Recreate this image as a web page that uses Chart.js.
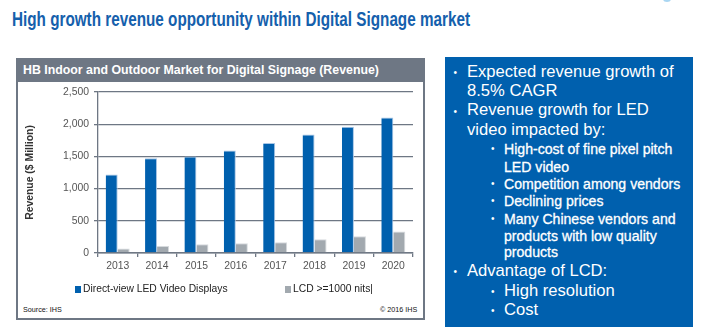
<!DOCTYPE html>
<html><head><meta charset="utf-8">
<script src="https://cdn.jsdelivr.net/npm/chart.js@4.4.1/dist/chart.umd.min.js"></script>
<style>
html,body{margin:0;padding:0;background:#fff;}
body{width:701px;height:336px;position:relative;overflow:hidden;font-family:"Liberation Sans",Arial,sans-serif;}
.abs{position:absolute;white-space:nowrap;line-height:1;}
#title{left:12px;top:8px;font-size:21px;font-weight:bold;color:#1560ac;transform-origin:0 0;font-family:"Liberation Sans Narrow","Arial Narrow","Liberation Sans",Arial,sans-serif;}
#panel{position:absolute;left:16px;top:58px;width:405px;height:258px;border:2px solid #6e7784;}
#header{position:absolute;left:16px;top:58px;width:409px;height:24px;background:#6e7784;}
#htext{left:23px;top:65px;font-size:11.2px;font-weight:bold;color:#fff;}
#src{left:23px;top:306px;font-size:7.2px;color:#111;-webkit-font-smoothing:antialiased;}
#copy{left:380px;top:306px;font-size:7.2px;color:#111;}
#side{position:absolute;left:445px;top:57px;width:248px;height:270px;background:#0060ae;}
#arc{position:absolute;left:663px;top:-4px;width:8px;height:6px;border-radius:50%;background:#a9d6f2;}
.bl{color:#fff;}
.sm{-webkit-text-stroke:0.3px #fff;}
#c{position:absolute;left:0;top:0;}
</style></head>
<body>
<div id="arc"></div>
<div id="title" class="abs">High growth revenue opportunity within Digital Signage market</div>
<div id="panel"></div>
<div id="header"></div>
<div id="htext" class="abs">HB Indoor and Outdoor Market for Digital Signage (Revenue)</div>
<div id="src" class="abs">Source: IHS</div>
<div id="copy" class="abs">© 2016 IHS</div>
<div id="side"></div>
<div id="bullets"></div>
<canvas id="c" width="701" height="336"></canvas>
<script>
// ---- data ----
const categories = ['2013','2014','2015','2016','2017','2018','2019','2020'];
const ledValues = [1220, 1470, 1500, 1590, 1710, 1840, 1960, 2105];
const lcdValues = [70, 110, 135, 150, 165, 215, 260, 335];
const yTickValues = [0, 500, 1000, 1500, 2000, 2500];
const seriesNames = ['Direct-view LED Video Displays', 'LCD >=1000 nits|'];
const yAxisTitle = 'Revenue ($ Million)';

const bulletLines = [
  'Expected revenue growth of', '8.5% CAGR',
  'Revenue growth for LED', 'video impacted by:',
  'High-cost of fine pixel pitch', 'LED video',
  'Competition among vendors',
  'Declining prices',
  'Many Chinese vendors and', 'products with low quality', 'products',
  'Advantage of LCD:',
  'High resolution',
  'Cost'
];
// ---- layout of the text panel (level, has bullet, big font, baseline) ----
const bulletLayout = [
  [0,1,1,78],[0,0,1,96.7],[0,1,1,116.5],[0,0,1,136],
  [1,1,0,154.3],[1,0,0,171.7],[1,1,0,189.3],[1,1,0,206],
  [1,1,0,224.3],[1,0,0,240.7],[1,0,0,256.7],
  [0,1,1,277.3],[1,1,1,296.7],[1,1,1,316]
];
const holder = document.getElementById('bullets');
bulletLines.forEach((t,i)=>{
  const [lvl,hasB,big,base] = bulletLayout[i];
  const fs = big ? 16.6 : 14.1;
  const d = document.createElement('div');
  d.className = 'abs bl' + (big ? '' : ' sm'); d.textContent = t;
  d.style.fontSize = fs + 'px';
  d.style.left = (lvl===0 ? 467 : 504) + 'px';
  d.style.top = (base - 0.8465*fs) + 'px';
  holder.appendChild(d);
  if (hasB) {
    const b = document.createElement('div');
    b.className = 'abs bl'; b.textContent = '\u2022';
    b.style.fontSize = '10px';
    b.style.left = (lvl===0 ? 453.5 : 491) + 'px';
    b.style.top = (base - 5 - 4.9) + 'px';
    holder.appendChild(b);
  }
});
// fit title width
const ti = document.getElementById('title');
const w = ti.getBoundingClientRect().width;
ti.style.transform = 'scaleX(' + (458 / w) + ')';
const ht = document.getElementById('htext');
const hw = ht.getBoundingClientRect().width;
ht.style.fontSize = (11.2 * 356 / hw) + 'px';
ht.style.top = (74.7 - 0.8465 * 11.2 * 356 / hw) + 'px';

const FONT = '"Liberation Sans", Arial, sans-serif';
const AX = '#6e7784';

const legendPlugin = {
  id: 'boxLegend',
  afterDraw(chart, args, o) {
    const ctx = chart.ctx;
    ctx.save();
    ctx.font = o.fontSize + 'px ' + FONT;
    ctx.textBaseline = 'middle';
    chart.data.datasets.forEach((ds, i) => {
      const x = o.x[i];
      ctx.fillStyle = ds.backgroundColor;
      ctx.fillRect(x, o.y - 3.5, o.box, 7);
      ctx.fillStyle = o.color;
      ctx.fillText(ds.label, x + o.box + o.gap, o.y);
    });
    ctx.restore();
  }
};

new Chart(document.getElementById('c'), {
  type: 'bar',
  data: {
    labels: categories,
    datasets: [
      { label: seriesNames[0], data: ledValues, backgroundColor: '#0060ae',
        borderColor: '#a9c6e6', borderWidth: {top:1, right:1, left:0, bottom:0}, borderSkipped: false },
      { label: seriesNames[1], data: lcdValues, backgroundColor: '#a2a9af',
        borderColor: '#d6dadd', borderWidth: {top:1, right:1, left:0, bottom:0}, borderSkipped: false }
    ]
  },
  plugins: [legendPlugin],
  options: {
    responsive: false,
    animation: false,
    events: [],
    layout: { padding: { left: 20, top: 92, right: 288, bottom: 53 } },
    datasets: { bar: { categoryPercentage: 0.61, barPercentage: 1 } },
    plugins: {
      legend: { display: false },
      tooltip: { enabled: false },
      boxLegend: { x: [75, 285], y: 289.5, box: 6, gap: 2, fontSize: 10.3, color: '#222' }
    },
    scales: {
      x: {
        grid: { display: true, drawOnChartArea: false, drawTicks: true, tickLength: 4, color: AX, lineWidth: 1.3, offset: true },
        border: { color: AX, width: 1.5 },
        ticks: { color: '#555', font: { size: 10.4, family: FONT }, padding: 3, maxRotation: 0 },
        afterFit(s) { s.height = 30; }
      },
      y: {
        min: 0, max: 2500,
        afterBuildTicks(s) { s.ticks = yTickValues.map(v => ({ value: v })); },
        ticks: { color: '#555', font: { size: 10.4, family: FONT }, padding: 5,
                 callback: v => Number(v).toLocaleString('en-US') },
        grid: { color: AX, lineWidth: 1.3, tickLength: 4 },
        border: { color: AX, width: 1.3 },
        title: { display: true, text: yAxisTitle, color: '#333',
                 font: { size: 10.4, weight: 'bold', family: FONT }, padding: { top: 4, bottom: 4 } },
        afterFit(s) { s.width = 78; }
      }
    }
  }
});
</script>
</body></html>
